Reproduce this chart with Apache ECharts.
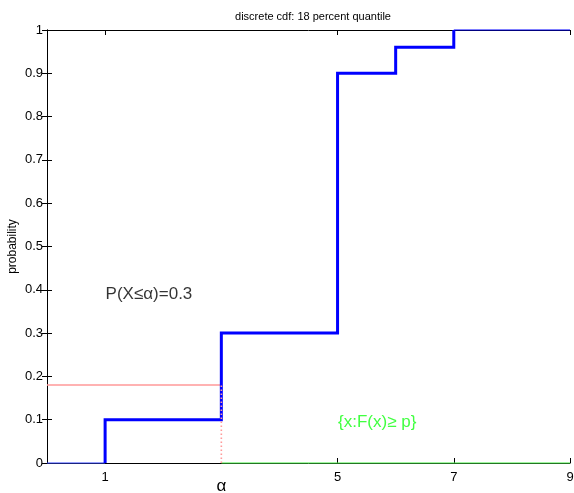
<!DOCTYPE html>
<html>
<head>
<meta charset="utf-8">
<script src="https://cdn.jsdelivr.net/npm/echarts@6/dist/echarts.min.js"></script>
<style>
  html, body { margin: 0; padding: 0; background: #fff; }
  #chart { width: 574px; height: 493px; }
</style>
</head>
<body>
<div id="chart"></div>
<script>
// Discrete CDF: jump locations and the CDF value reached at each jump
const jumpX = [1, 3, 5, 6, 7];
const cdfValues = [0.1, 0.3, 0.9, 0.96, 1];
const xRange = [0, 9];
const xTicks = [1, 5, 7, 9];
const pLevel = 0.18;       // requested probability p
const alpha = 3;           // resulting quantile
const alphaProb = 0.3;     // F(alpha)
const annotProb = [1, 0.39];
const annotSet = [5, 0.095];

const FONT = 'Liberation Sans, Arial, Helvetica, sans-serif';

// staircase through the jumps (vertical rise at each jump, then flat)
const stairs = [];
let prev = 0;
jumpX.forEach((x, i) => {
  stairs.push([x, prev]);
  stairs.push([x, cdfValues[i]]);
  const next = i + 1 < jumpX.length ? jumpX[i + 1] : x;
  stairs.push([next, cdfValues[i]]);
  prev = cdfValues[i];
});
const lastX = jumpX[jumpX.length - 1];
const lastY = cdfValues[cdfValues.length - 1];

const chart = echarts.init(document.getElementById('chart'));

const axisCommon = {
  type: 'value',
  min: xRange[0],
  max: xRange[1],
  splitLine: { show: false },
  axisLine: { show: true, onZero: false, lineStyle: { color: '#000', width: 1 } }
};

const lineBase = { type: 'line', symbol: 'none', clip: false, animation: false, silent: true };

chart.setOption({
  animation: false,
  textStyle: { fontFamily: FONT },
  title: {
    text: 'discrete cdf: 18 percent quantile',
    left: 308,
    textAlign: 'center',
    top: 6,
    textStyle: { fontSize: 11, fontWeight: 'normal', color: '#000', fontFamily: FONT }
  },
  grid: { left: 47, right: 4, top: 30, bottom: 30, containLabel: false, outerBoundsMode: 'none' },
  xAxis: [
    Object.assign({}, axisCommon, {
      position: 'bottom',
      axisTick: { show: true, inside: true, length: 5, customValues: xTicks, lineStyle: { color: '#000' } },
      axisLabel: { customValues: xTicks, margin: 8, fontSize: 13, color: '#000', fontFamily: FONT }
    }),
    Object.assign({}, axisCommon, {
      position: 'bottom',
      axisLine: { show: false },
      axisTick: { show: false },
      axisLabel: { customValues: [alpha], formatter: () => 'α', margin: 15, fontSize: 17, color: '#000', fontFamily: FONT }
    }),
    Object.assign({}, axisCommon, {
      position: 'top',
      axisTick: { show: true, inside: true, length: 5, customValues: xTicks, lineStyle: { color: '#000' } },
      axisLabel: { show: false }
    })
  ],
  yAxis: [
    {
      type: 'value', min: 0, max: 1, interval: 0.1, position: 'left',
      splitLine: { show: false },
      axisLine: { show: true, lineStyle: { color: '#000' } },
      axisTick: { show: true, inside: true, length: 5, lineStyle: { color: '#000' } },
      axisLabel: { margin: 4, fontSize: 13, color: '#000', fontFamily: FONT },
      name: 'probability',
      nameLocation: 'middle',
      nameGap: 28,
      nameMoveOverlap: false,
      nameTextStyle: { fontSize: 12, color: '#000', fontFamily: FONT }
    },
    {
      type: 'value', min: 0, max: 1, interval: 0.1, position: 'right',
      splitLine: { show: false },
      axisLine: { show: true, lineStyle: { color: '#000' } },
      axisTick: { show: true, inside: true, length: 5, lineStyle: { color: '#000' } },
      axisLabel: { show: false }
    }
  ],
  series: [
    // the set {x : F(x) >= p} along the axis
    Object.assign({}, lineBase, {
      data: [[alpha, 0], [xRange[1], 0]],
      lineStyle: { color: '#44ee44', width: 1.2 }, z: 3
    }),
    // flat tails of the CDF
    Object.assign({}, lineBase, {
      data: [[xRange[0], 0], [jumpX[0], 0]],
      lineStyle: { color: '#3344ff', width: 1.2 }, z: 3
    }),
    Object.assign({}, lineBase, {
      data: [[lastX, lastY], [xRange[1], lastY]],
      lineStyle: { color: '#0000ff', width: 1.2 }, z: 3
    }),
    // probability level p
    Object.assign({}, lineBase, {
      data: [[xRange[0], pLevel], [alpha, pLevel]],
      lineStyle: { color: '#ff9999', width: 1.6 }, z: 3
    }),
    // the staircase
    Object.assign({}, lineBase, {
      data: stairs,
      lineStyle: { color: '#0000ff', width: 3, join: 'miter', cap: 'butt' }, z: 4
    }),
    // drop from p to the quantile
    Object.assign({}, lineBase, {
      data: [[alpha, 0], [alpha, pLevel]],
      lineStyle: { color: '#ff9999', width: 1.6, type: [1.5, 2.5] }, z: 5
    }),
    // annotations
    {
      type: 'scatter', symbolSize: 1, itemStyle: { color: 'rgba(0,0,0,0)' }, silent: true, z: 6,
      data: [annotProb],
      label: {
        show: true, position: 'right', distance: 0, formatter: 'P(X≤α)=' + alphaProb,
        fontSize: 17, color: '#000', fontFamily: FONT
      }
    },
    {
      type: 'scatter', symbolSize: 1, itemStyle: { color: 'rgba(0,0,0,0)' }, silent: true, z: 6,
      data: [annotSet],
      label: {
        show: true, position: 'right', distance: 0, formatter: '{x:F(x)≥ p}',
        fontSize: 17, color: '#11ff11', fontFamily: FONT
      }
    }
  ]
});
</script>
</body>
</html>
